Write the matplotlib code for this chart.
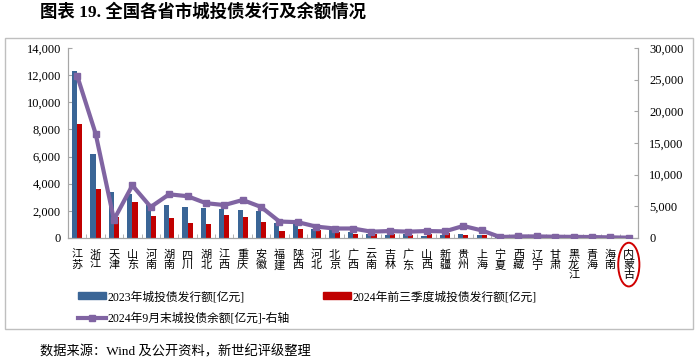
import matplotlib
matplotlib.use("Agg")
import matplotlib.pyplot as plt
import numpy as np
from matplotlib.patches import Rectangle, Ellipse
from matplotlib.lines import Line2D
from matplotlib.ticker import FuncFormatter, MultipleLocator

plt.rcParams['font.family'] = ['Liberation Serif', 'Noto Sans CJK SC']

provinces = ['江苏', '浙江', '天津', '山东', '河南', '湖南', '四川', '湖北', '江西', '重庆',
             '安徽', '福建', '陕西', '河北', '北京', '广西', '云南', '吉林', '广东', '山西',
             '新疆', '贵州', '上海', '宁夏', '西藏', '辽宁', '甘肃', '黑龙江', '青海', '海南', '内蒙古']
issue_2023 = [12300, 6200, 3400, 3250, 2400, 2450, 2250, 2200, 2150, 2100,
              2000, 1100, 1050, 700, 600, 420, 300, 250, 280, 180,
              250, 300, 250, 60, 40, 50, 40, 30, 30, 30, 20]
issue_2024q3 = [8400, 3600, 1550, 2650, 1600, 1500, 1100, 1000, 1700, 1550,
                1150, 550, 650, 600, 450, 300, 300, 300, 230, 330,
                380, 200, 250, 40, 10, 20, 30, 10, 10, 20, 10]
balance_sep = [25600, 16500, 2900, 8300, 4900, 6900, 6600, 5500, 5200, 6000,
               4900, 2600, 2500, 1800, 1500, 1500, 1000, 1100, 1000, 1100,
               1050, 1900, 1200, 150, 250, 250, 200, 180, 150, 100, 50]

label_2023 = '2023年城投债发行额[亿元]'
label_2024 = '2024年前三季度城投债发行额[亿元]'
label_bal = '2024年9月末城投债余额[亿元]-右轴'

BLUE = '#3A6596'
RED = '#C00000'
PURPLE = '#8064A2'
GREY = '#A6A6A6'

W, H = 700, 363
fig = plt.figure(figsize=(7, 3.63), dpi=100)

# outer frame
fig.patches.append(Rectangle((5 / W, 1 - 329 / H), 688 / W, 291 / H, transform=fig.transFigure,
                             fill=False, edgecolor='#BFBFBF', linewidth=1.0))

ax = fig.add_axes([68 / W, 1 - 238 / H, 570 / W, 190 / H])
ax2 = ax.twinx()

x = np.arange(len(provinces))
bw = 0.28
ax.bar(x - bw / 2, issue_2023, width=bw, color=BLUE, zorder=2)
ax.bar(x + bw / 2, issue_2024q3, width=bw, color=RED, zorder=2)
ax2.plot(x, balance_sep, color=PURPLE, linewidth=3, marker='s', markersize=4.5, zorder=3)

ax.set_xlim(-0.5, len(provinces) - 0.5)
ax.set_ylim(0, 14000)
ax2.set_ylim(0, 30000)
ax.yaxis.set_major_locator(MultipleLocator(2000))
ax2.yaxis.set_major_locator(MultipleLocator(5000))
fmt = FuncFormatter(lambda v, p: f'{int(v):,}')
ax.yaxis.set_major_formatter(fmt)
ax2.yaxis.set_major_formatter(fmt)

ax.set_xticks(x)
ax.set_xticklabels(['\n'.join(p) for p in provinces], family=['Noto Sans CJK SC'],
                   fontsize=8, linespacing=1.0)
ax.set_xticks(np.arange(len(provinces) + 1) - 0.5, minor=True)
ax.tick_params(axis='x', which='major', length=0, pad=8.5)
ax.tick_params(axis='x', which='minor', direction='in', length=3, color=GREY)
ax.tick_params(axis='y', direction='in', length=3, color=GREY, labelsize=9, pad=5)
ax2.tick_params(axis='y', direction='in', length=3, color=GREY, labelsize=9, pad=8)

for a in (ax, ax2):
    for s in a.spines.values():
        s.set_color(GREY)
    a.spines['top'].set_visible(False)

# red ellipse around 内蒙古
ell = Ellipse((len(provinces) - 1, -0.14), width=1.15, height=0.23,
              transform=ax.get_xaxis_transform(), fill=False, edgecolor='#D00000',
              linewidth=1.4, clip_on=False)
ax.add_patch(ell)

handles = [Rectangle((0, 0), 1, 1, color=BLUE),
           Line2D([], [], color=PURPLE, linewidth=3, marker='s', markersize=4.5),
           Rectangle((0, 0), 1, 1, color=RED)]
fig.legend(handles, [label_2023, label_bal, label_2024], loc='upper left',
           bbox_to_anchor=(78 / W, 1 - 291 / H), ncol=2, frameon=False, fontsize=8.5,
           handlelength=2.4, handleheight=0.5, handletextpad=0.1, columnspacing=2.8,
           labelspacing=0.8, borderpad=0, borderaxespad=0)

fig.text(40 / W, 1 - 12 / H, '图表 19. 全国各省市城投债发行及余额情况', fontsize=12.5,
         fontweight='bold', va='center', ha='left',
         family=['Liberation Serif', 'Noto Sans CJK SC'])
fig.text(40 / W, 1 - 352 / H, '数据来源：Wind 及公开资料，新世纪评级整理', fontsize=9.5,
         va='center', ha='left')

fig.savefig('out.png', dpi=100)
